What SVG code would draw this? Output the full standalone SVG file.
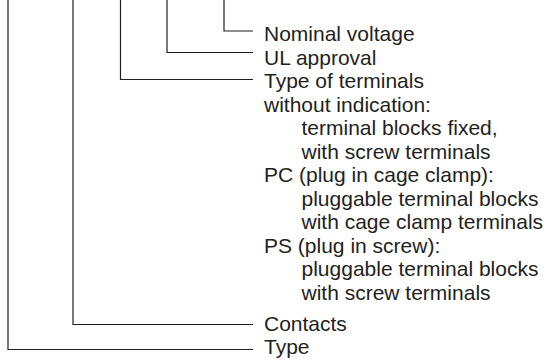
<svg xmlns="http://www.w3.org/2000/svg" width="550" height="363" viewBox="0 0 550 363">
<style>
.t{font-family:"Liberation Sans",Arial,Helvetica,sans-serif;font-size:21px;fill:#231f20}
.c{fill:none;stroke:#231f20;stroke-width:1.2}
</style>
<rect width="550" height="363" fill="#fff"/>
<g id="connectors">
<polyline class="c" points="8,0 8,349.5 253,349.5"/>
<polyline class="c" points="73,0 73,324.5 253,324.5"/>
<polyline class="c" points="120.5,0 120.5,79.5 253,79.5"/>
<polyline class="c" points="167,0 167,52.5 253,52.5"/>
<polyline class="c" points="224,0 224,31 253,31"/>
</g>
<g id="nominal-voltage"><text class="t" x="264" y="41">Nominal voltage</text></g>
<g id="ul-approval"><text class="t" x="264" y="64.5">UL approval</text></g>
<g id="type-of-terminals">
<text class="t" x="264" y="88">Type of terminals</text>
<text class="t" x="264" y="111.5">without indication:</text>
<text class="t" x="301.5" y="135">terminal blocks fixed,</text>
<text class="t" x="301.5" y="158.5">with screw terminals</text>
<text class="t" x="264" y="182">PC (plug in cage clamp):</text>
<text class="t" x="301.5" y="205.5">pluggable terminal blocks</text>
<text class="t" x="301.5" y="229">with cage clamp terminals</text>
<text class="t" x="264" y="252.5">PS (plug in screw):</text>
<text class="t" x="301.5" y="276">pluggable terminal blocks</text>
<text class="t" x="301.5" y="299.5">with screw terminals</text>
</g>
<g id="contacts"><text class="t" x="264" y="331">Contacts</text></g>
<g id="type"><text class="t" x="264" y="354">Type</text></g>
</svg>
